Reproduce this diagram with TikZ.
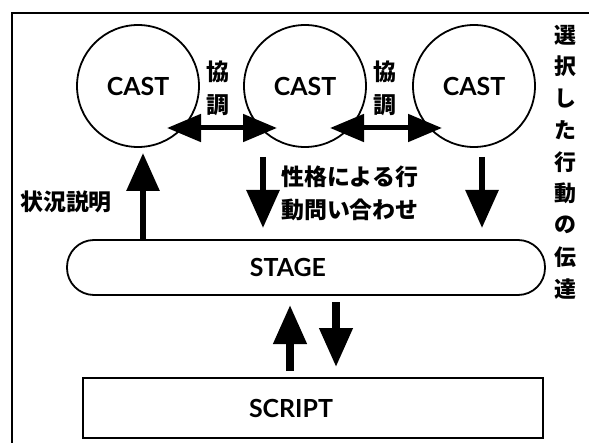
\documentclass[tikz,border=0pt]{standalone}
\usepackage{fontspec}
\setmainfont{Lato}
\newfontfamily\jp{Noto Sans CJK JP}
\usetikzlibrary{arrows.meta}
\tikzset{
  castnode/.style={circle,draw,line width=1.8bp,minimum size=122bp,inner sep=0pt,font=\bfseries\fontsize{25}{25}\selectfont},
  boxlabel/.style={font=\bfseries\fontsize{25}{25}\selectfont},
  jptext/.style={font=\jp\bfseries\fontsize{23}{23}\selectfont,inner sep=0pt},
  vtext/.style={font=\jp\bfseries\fontsize{22}{22}\selectfont,inner sep=0pt},
  bigarrow/.style={line width=6bp,-{Triangle[length=38bp,width=32bp]}},
  lowarrow/.style={line width=7.5bp,-{Triangle[length=39bp,width=32bp]}},
  dblarrow/.style={line width=5bp,{Triangle[length=34bp,width=27bp]}-{Triangle[length=34bp,width=27bp]}},
}
\begin{document}
\begin{tikzpicture}[x=1bp,y=-1bp]
\useasboundingbox (0,0) rectangle (589,443);
% frame
\draw[line width=1.4bp] (12,443) -- (12,13) -- (589,13);
% casts
\node[castnode] (c1) at (138,86) {CAST};
\node[castnode] (c2) at (305,86) {CAST};
\node[castnode] (c3) at (474,86) {CAST};
% stage and script
\node[draw,line width=1.8bp,rounded corners=27bp,minimum width=478bp,minimum height=55bp] (stage) at (306,267.5) {};
\node[boxlabel] (stagelbl) at (288,267.5) {STAGE};
\node[draw,line width=1.8bp,minimum width=460bp,minimum height=60bp] (script) at (313,408) {};
\node[boxlabel] (scriptlbl) at (291,408) {SCRIPT};
% cooperation arrows
\coordinate (d1a) at (167,128); \coordinate (d1b) at (277,128);
\coordinate (d2a) at (330,128); \coordinate (d2b) at (442,128);
\draw[dblarrow] (d1a) -- (d1b);
\draw[dblarrow] (d2a) -- (d2b);
\node[jptext] (k1a) at (218,72) {協};
\node[jptext] (k1b) at (218,105) {調};
\node[jptext] (k2a) at (385,72) {協};
\node[jptext] (k2b) at (385,105) {調};
% vertical arrows
\coordinate (u1s) at (143,240); \coordinate (u1e) at (143,153);
\draw[bigarrow] (u1s) -- (u1e);
\coordinate (dn2s) at (263,157); \coordinate (dn2e) at (263,228);
\draw[bigarrow] (dn2s) -- (dn2e);
\coordinate (dn3s) at (482,157); \coordinate (dn3e) at (482,228);
\draw[bigarrow] (dn3s) -- (dn3e);
\node[jptext] (sit) at (66,202) {状況説明};
\node[jptext,anchor=west] (q1) at (281,177) {性格による行};
\node[jptext,anchor=west] (q2) at (281,210) {動問い合わせ};
% stage-script arrows
\coordinate (su1) at (290,371); \coordinate (su2) at (290,305);
\draw[lowarrow] (su1) -- (su2);
\coordinate (sd1) at (336,302); \coordinate (sd2) at (336,367);
\draw[lowarrow] (sd1) -- (sd2);
% right vertical text
\foreach \ch [count=\i from 0] in {選,択,し,た,行,動,の,伝,達} {
  \node[vtext] (r\i) at (565,{35+31.7*\i}) {\ch};
}
\end{tikzpicture}
\end{document}
